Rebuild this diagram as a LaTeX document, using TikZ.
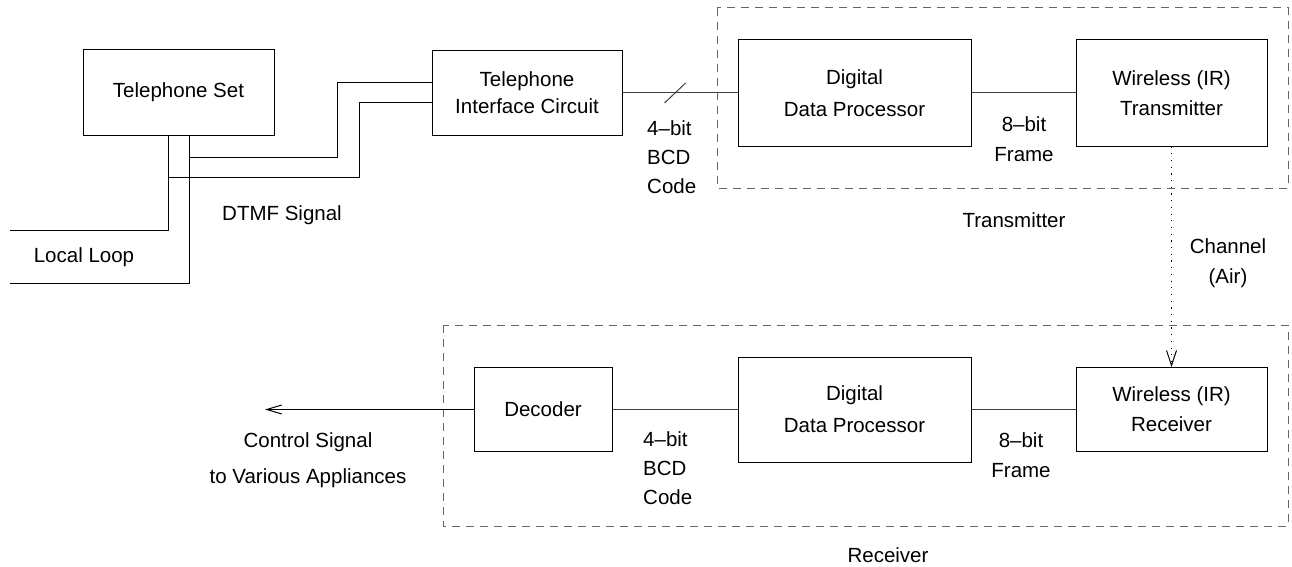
\documentclass[tikz,border=0pt]{standalone}
\usepackage{fontspec}
\setmainfont{Liberation Sans}
\usetikzlibrary{arrows.meta}

\begin{document}
\begin{tikzpicture}[x=1pt,y=-1pt,
    font=\fontsize{20.5}{30}\selectfont,
    block/.style={draw,line width=1pt,inner sep=0pt,align=center},
    lbl/.style={inner sep=0pt,align=center},
    wire/.style={line width=1pt,black!75},
    group/.style={line width=1pt,black!60,dash pattern=on 8pt off 6pt}]
    \useasboundingbox (0,0) rectangle (1292,567);

    % transmitter side
    \node[block,minimum width=191,minimum height=85] (tel) at (178.5,92.5) {Telephone Set};
    \node[block,minimum width=190,minimum height=84,font=\fontsize{20.5}{27}\selectfont] (tic) at (527,93) {Telephone\\Interface Circuit};
    \node[block,minimum width=233,minimum height=106,font=\fontsize{20.5}{32}\selectfont] (ddpT) at (854.5,93) {Digital\\Data Processor};
    \node[block,minimum width=191,minimum height=106] (irT) at (1171.5,93) {Wireless (IR)\\Transmitter};

    % receiver side
    \node[block,minimum width=138,minimum height=84] (dec) at (543,409.5) {Decoder};
    \node[block,minimum width=233,minimum height=105,font=\fontsize{20.5}{32}\selectfont] (ddpR) at (854.5,409.5) {Digital\\Data Processor};
    \node[block,minimum width=191,minimum height=84] (irR) at (1171.5,409.5) {Wireless (IR)\\Receiver};

    \draw[group] (717,8) rectangle (1288,188);
    \draw[group] (443,325) rectangle (1288,526);

    % phone wiring
    \coordinate (telL) at ([xshift=-10.5pt]tel.south);
    \coordinate (telR) at ([xshift=10.5pt]tel.south);
    \coordinate (loopA) at (10,230);
    \coordinate (loopB) at (10,283);
    \coordinate (bendA) at (337,157);
    \coordinate (bendB) at (359,177);
    \draw[line width=1pt] (telL) |- (loopA);
    \draw[line width=1pt] (telR) |- (loopB);
    \draw[line width=1pt] ([yshift=10pt]tic.west) -| (bendA) -- (telR |- bendA);
    \draw[line width=1pt] ([yshift=-10pt]tic.west) -| (bendB) -- (telL |- bendB);

    \draw[wire] (tic.east) -- (ddpT.west) coordinate[pos=0.457] (busmark);
    \draw[wire] ([shift={(-10.5,10)}]busmark) -- ([shift={(10.5,-10)}]busmark);
    \draw[wire] (ddpT) -- (irT);
    \draw[wire] (irR) -- (ddpR);
    \draw[wire] (ddpR) -- (dec);

    \coordinate (ctrlend) at (265,409.5);
    \draw[line width=1pt,-{Straight Barb[length=15pt,width=9pt]}] (dec) -- (ctrlend);
    \draw[line width=1pt,dash pattern=on 1.2pt off 5.5pt,-{Straight Barb[length=15pt,width=10pt]}] (irT) -- (irR);

    % labels
    \node[lbl] (dtmf) at (282,215) {DTMF Signal};
    \node[lbl] (loop) at (84,257) {Local Loop};
    \node[lbl,anchor=west,align=left,font=\fontsize{20.5}{29}\selectfont] (bcdT) at (647,157) {4--bit\\BCD\\Code};
    \node[lbl,anchor=west,align=left,font=\fontsize{20.5}{29}\selectfont] (bcdR) at (643,468) {4--bit\\BCD\\Code};
    \node[lbl] (frameT) at (1024,139.5) {8--bit\\Frame};
    \node[lbl] (frameR) at (1021,455.5) {8--bit\\Frame};
    \node[lbl] (chan) at (1228,263) {Channel\\(Air)};
    \node[lbl] (txname) at (1014,220) {Transmitter};
    \node[lbl] (rxname) at (888,555) {Receiver};
    \node[lbl,font=\fontsize{20.5}{36}\selectfont] (ctrl) at (308,460) {Control Signal\\to Various Appliances};
\end{tikzpicture}
\end{document}
